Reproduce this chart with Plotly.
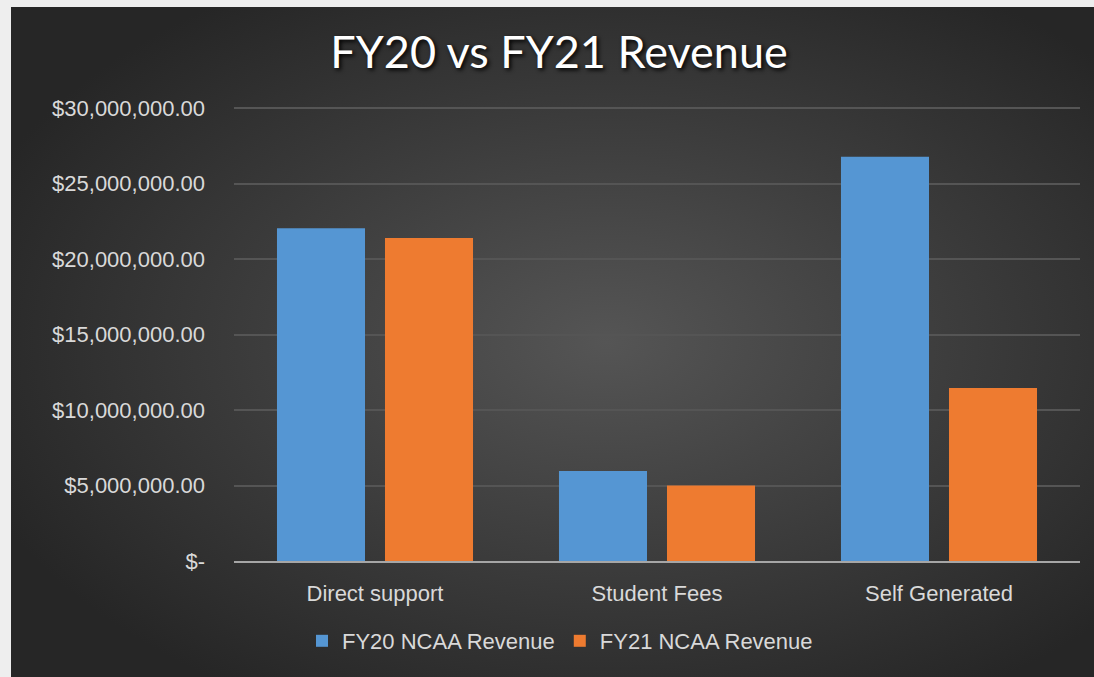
"""FY20 vs FY21 revenue comparison chart."""

from __future__ import annotations

import base64

import plotly.graph_objects as go


categories = ["Direct support", "Student Fees", "Self Generated"]
fy20_revenue = [22_050_000, 5_960_000, 26_780_000]
fy21_revenue = [21_400_000, 5_000_000, 11_460_000]
y_tick_values = [0, 5_000_000, 10_000_000, 15_000_000, 20_000_000, 25_000_000, 30_000_000]
y_tick_labels = [
    "$-",
    "$5,000,000.00",
    "$10,000,000.00",
    "$15,000,000.00",
    "$20,000,000.00",
    "$25,000,000.00",
    "$30,000,000.00",
]

W, H = 1094, 677
L, R, T, B = 234, 14, 107, 116

# radial dark backdrop, drawn as an svg layout image
svg = """<svg xmlns='http://www.w3.org/2000/svg' width='1083' height='670'>
<defs><radialGradient id='g' cx='0.55' cy='0.5' r='0.62'>
<stop offset='0' stop-color='#555555'/>
<stop offset='0.55' stop-color='#3b3b3b'/>
<stop offset='1' stop-color='#262626'/>
</radialGradient></defs>
<rect width='1083' height='670' fill='url(#g)'/>
</svg>"""
bg_src = "data:image/svg+xml;base64," + base64.b64encode(svg.encode()).decode()

pw, ph = W - L - R, H - T - B


def px_x(v):
    return (v - L) / pw


def px_y(v):
    return (H - B - v) / ph


font_family = "Liberation Sans, Arial, sans-serif"
text_color = "#d9d9d9"

fig = go.Figure()
fig.add_trace(go.Bar(
    x=categories, y=fy20_revenue, name="FY20 NCAA Revenue",
    marker={"color": "#5596d3", "line": {"width": 0}},
))
fig.add_trace(go.Bar(
    x=categories, y=fy21_revenue, name="FY21 NCAA Revenue",
    marker={"color": "#ee7b30", "line": {"width": 0}},
))

fig.update_layout(
    width=W,
    height=H,
    margin={"l": L, "r": R, "t": T, "b": B, "autoexpand": False},
    paper_bgcolor="#eeeeee",
    plot_bgcolor="rgba(0,0,0,0)",
    barmode="group",
    bargap=0.234,
    bargroupgap=0.185,
    font={"family": font_family, "size": 22, "color": text_color},
    title={
        "text": "FY20 vs FY21 Revenue",
        "x": 559 / W,
        "xanchor": "center",
        "y": 1 - 52 / H,
        "yanchor": "middle",
        "font": {"family": "Lato, sans-serif", "size": 45, "color": "#ffffff",
                 "shadow": "2px 2px 4px #000000"},
    },
    legend={
        "orientation": "h",
        "x": px_x(560),
        "xanchor": "center",
        "y": px_y(641),
        "yanchor": "middle",
        "font": {"size": 22, "color": text_color},
        "bgcolor": "rgba(0,0,0,0)",
        "itemwidth": 30,
    },
    images=[{
        "source": bg_src,
        "xref": "paper", "yref": "paper",
        "x": px_x(11), "y": px_y(7),
        "sizex": (W - 11) / pw, "sizey": (H - 7) / ph,
        "xanchor": "left", "yanchor": "top",
        "sizing": "stretch",
        "layer": "below",
    }],
)

fig.update_xaxes(
    showgrid=False,
    showline=True,
    linecolor="#a6a6a6",
    linewidth=2,
    ticks="",
    ticklabelstandoff=12,
    tickfont={"size": 22, "color": text_color},
)
fig.update_yaxes(
    range=[0, 30_080_000],
    tickvals=y_tick_values,
    ticktext=y_tick_labels,
    showgrid=True,
    gridcolor="#555555",
    gridwidth=2,
    zeroline=False,
    ticks="",
    ticklabelstandoff=28,
    tickfont={"size": 22, "color": text_color},
)

fig.write_html(
    "out.html",
    config={"displayModeBar": False},
    post_script="document.body.style.margin='0';",
)
